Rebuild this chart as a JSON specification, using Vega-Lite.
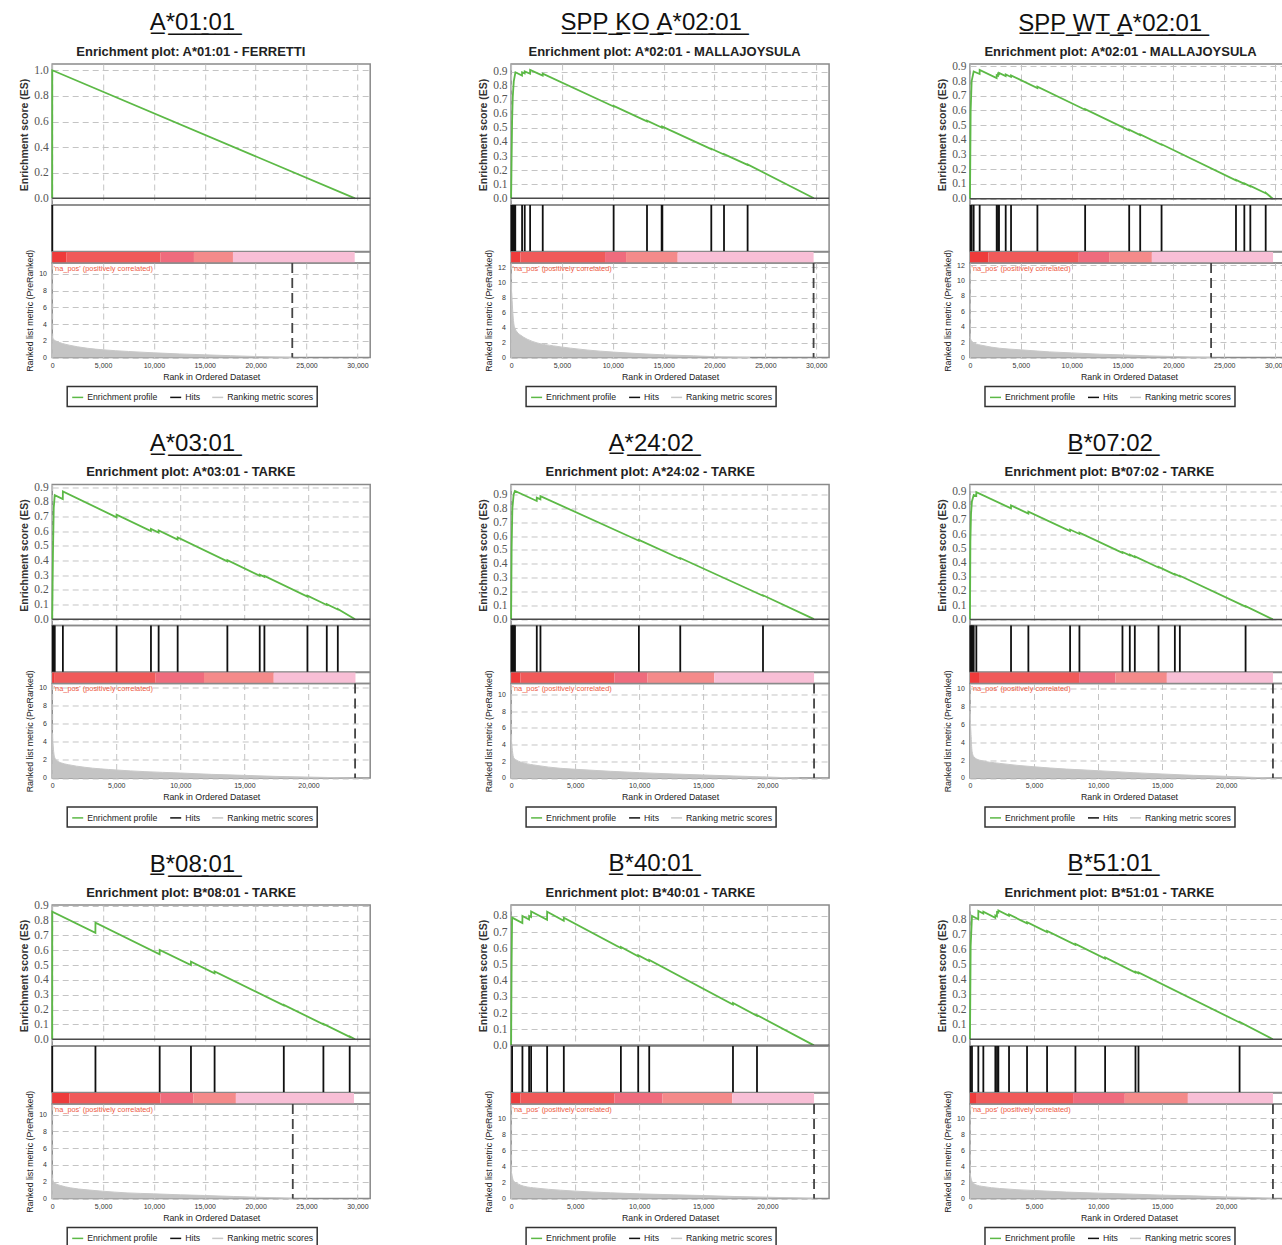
{
"$schema": "https://vega.github.io/schema/vega-lite/v6.json",
"background": "white",
"padding": {"left": 18.2, "top": 11, "right": 0, "bottom": 0},
"spacing": 23.5,
"resolve": {"scale": {"color": "independent"}, "legend": {"color": "independent"}},
"config": {
  "font": "Liberation Sans",
  "view": {"stroke": "#8a8a8a", "strokeWidth": 1.5},
  "axis": {"domain": false, "ticks": false, "tickSize": 0, "tickCount": 40, "gridColor": "#c4c4c4", "gridDash": [6, 4], "gridWidth": 1, "labelFont": "Liberation Sans", "titleFont": "Liberation Sans", "labelColor": "#333", "titleColor": "#222", "labelFlush": false, "labelOverlap": false},
  "legend": {"strokeColor": "#333", "strokeWidth": 1.5, "padding": 4},
  "title": {"font": "Liberation Sans", "color": "#111"}
},
"datasets": {
  "es1": [{"r":0,"es":0},{"r":5,"es":1.0},{"r":29770,"es":0}],
  "es2": [{"r":0,"es":0},{"r":100,"es":0.55},{"r":164,"es":0.72},{"r":262,"es":0.83},{"r":426,"es":0.895},{"r":1075,"es":0.872},{"r":1080,"es":0.895},{"r":1335,"es":0.887},{"r":1340,"es":0.902},{"r":1865,"es":0.885},{"r":1870,"es":0.912},{"r":3105,"es":0.872},{"r":3110,"es":0.885},{"r":10075,"es":0.652},{"r":10080,"es":0.656},{"r":13355,"es":0.547},{"r":13360,"es":0.551},{"r":14795,"es":0.503},{"r":14800,"es":0.507},{"r":14865,"es":0.505},{"r":14870,"es":0.509},{"r":19675,"es":0.349},{"r":19680,"es":0.352},{"r":20925,"es":0.311},{"r":20930,"es":0.314},{"r":23245,"es":0.237},{"r":23250,"es":0.24},{"r":29770,"es":0}],
  "es3": [{"r":0,"es":0},{"r":66,"es":0.6},{"r":164,"es":0.8},{"r":361,"es":0.865},{"r":946,"es":0.848},{"r":951,"es":0.875},{"r":2620,"es":0.82},{"r":2625,"es":0.84},{"r":2751,"es":0.836},{"r":2756,"es":0.85},{"r":2849,"es":0.847},{"r":2854,"es":0.855},{"r":3505,"es":0.834},{"r":3510,"es":0.845},{"r":4030,"es":0.828},{"r":4035,"es":0.838},{"r":6622,"es":0.752},{"r":6627,"es":0.762},{"r":11314,"es":0.605},{"r":11319,"es":0.609},{"r":15645,"es":0.465},{"r":15650,"es":0.469},{"r":16727,"es":0.433},{"r":16732,"es":0.437},{"r":18827,"es":0.367},{"r":18832,"es":0.37},{"r":26143,"es":0.125},{"r":26148,"es":0.128},{"r":26964,"es":0.101},{"r":26969,"es":0.104},{"r":27554,"es":0.084},{"r":27559,"es":0.087},{"r":29063,"es":0.037},{"r":29068,"es":0.04},{"r":29770,"es":0}],
  "es4": [{"r":0,"es":0},{"r":60,"es":0.45},{"r":120,"es":0.76},{"r":200,"es":0.845},{"r":828,"es":0.818},{"r":833,"es":0.87},{"r":5021,"es":0.695},{"r":5026,"es":0.712},{"r":7703,"es":0.6},{"r":7708,"es":0.615},{"r":8302,"es":0.59},{"r":8307,"es":0.605},{"r":9787,"es":0.543},{"r":9792,"es":0.558},{"r":13667,"es":0.395},{"r":13672,"es":0.402},{"r":16193,"es":0.296},{"r":16198,"es":0.303},{"r":16558,"es":0.288},{"r":16563,"es":0.295},{"r":19917,"es":0.154},{"r":19922,"es":0.16},{"r":21427,"es":0.097},{"r":21432,"es":0.102},{"r":22287,"es":0.066},{"r":22292,"es":0.07},{"r":23640,"es":0}],
  "es5": [{"r":0,"es":0},{"r":40,"es":0.5},{"r":100,"es":0.8},{"r":200,"es":0.9},{"r":300,"es":0.925},{"r":2000,"es":0.853},{"r":2005,"es":0.877},{"r":2288,"es":0.865},{"r":2292,"es":0.888},{"r":9970,"es":0.566},{"r":9974,"es":0.572},{"r":13199,"es":0.436},{"r":13203,"es":0.441},{"r":19657,"es":0.169},{"r":19661,"es":0.172},{"r":23640,"es":0}],
  "es6": [{"r":0,"es":0},{"r":30,"es":0.55},{"r":80,"es":0.74},{"r":150,"es":0.83},{"r":290,"es":0.875},{"r":490,"es":0.868},{"r":495,"es":0.895},{"r":3198,"es":0.781},{"r":3203,"es":0.802},{"r":4552,"es":0.745},{"r":4557,"es":0.758},{"r":7808,"es":0.621},{"r":7813,"es":0.632},{"r":8537,"es":0.601},{"r":8542,"es":0.61},{"r":11896,"es":0.468},{"r":11901,"es":0.474},{"r":12469,"es":0.45},{"r":12474,"es":0.455},{"r":12860,"es":0.438},{"r":12865,"es":0.443},{"r":14709,"es":0.365},{"r":14714,"es":0.369},{"r":15985,"es":0.315},{"r":15990,"es":0.319},{"r":16375,"es":0.303},{"r":16380,"es":0.307},{"r":21505,"es":0.09},{"r":21510,"es":0.093},{"r":23640,"es":0}],
  "es7": [{"r":0,"es":0},{"r":5,"es":0.86},{"r":4247,"es":0.717},{"r":4252,"es":0.785},{"r":10561,"es":0.573},{"r":10566,"es":0.603},{"r":13636,"es":0.5},{"r":13641,"es":0.523},{"r":15959,"es":0.445},{"r":15964,"es":0.458},{"r":22762,"es":0.229},{"r":22767,"es":0.232},{"r":26655,"es":0.101},{"r":26660,"es":0.104},{"r":29240,"es":0.017},{"r":29245,"es":0.02},{"r":29770,"es":0}],
  "es8": [{"r":0,"es":0},{"r":40,"es":0.5},{"r":78,"es":0.79},{"r":880,"es":0.756},{"r":885,"es":0.8},{"r":1401,"es":0.778},{"r":1406,"es":0.8},{"r":1558,"es":0.794},{"r":1563,"es":0.828},{"r":2808,"es":0.776},{"r":2813,"es":0.826},{"r":4110,"es":0.771},{"r":4115,"es":0.79},{"r":8563,"es":0.602},{"r":8568,"es":0.608},{"r":9917,"es":0.551},{"r":9922,"es":0.558},{"r":10776,"es":0.522},{"r":10781,"es":0.528},{"r":17313,"es":0.252},{"r":17318,"es":0.262},{"r":19188,"es":0.183},{"r":19193,"es":0.187},{"r":23640,"es":0}],
  "es9": [{"r":0,"es":0},{"r":52,"es":0.62},{"r":156,"es":0.822},{"r":646,"es":0.8},{"r":651,"es":0.855},{"r":1037,"es":0.838},{"r":1042,"es":0.85},{"r":1974,"es":0.81},{"r":1979,"es":0.825},{"r":2104,"es":0.82},{"r":2109,"es":0.848},{"r":2209,"es":0.844},{"r":2214,"es":0.858},{"r":3042,"es":0.823},{"r":3047,"es":0.832},{"r":4448,"es":0.773},{"r":4453,"es":0.78},{"r":6011,"es":0.714},{"r":6016,"es":0.722},{"r":8224,"es":0.629},{"r":8229,"es":0.636},{"r":10542,"es":0.538},{"r":10547,"es":0.545},{"r":12912,"es":0.445},{"r":12917,"es":0.45},{"r":13146,"es":0.44},{"r":13151,"es":0.445},{"r":21037,"es":0.112},{"r":21042,"es":0.116},{"r":23640,"es":0}],
  "h1": [{"r":10}],
  "h2": [{"r":30},{"r":80},{"r":150},{"r":230},{"r":320},{"r":410},{"r":1080},{"r":1340},{"r":1870},{"r":3110},{"r":10080},{"r":13360},{"r":14800},{"r":14870},{"r":19680},{"r":20930},{"r":23250}],
  "h3": [{"r":66},{"r":164},{"r":361},{"r":951},{"r":2625},{"r":2756},{"r":2854},{"r":3510},{"r":4035},{"r":6627},{"r":11319},{"r":15650},{"r":16732},{"r":18832},{"r":26148},{"r":26969},{"r":27559},{"r":29068}],
  "h4": [{"r":40},{"r":100},{"r":200},{"r":833},{"r":5026},{"r":7708},{"r":8307},{"r":9792},{"r":13672},{"r":16198},{"r":16563},{"r":19922},{"r":21432},{"r":22292}],
  "h5": [{"r":30},{"r":80},{"r":140},{"r":200},{"r":260},{"r":300},{"r":2005},{"r":2292},{"r":9974},{"r":13203},{"r":19661}],
  "h6": [{"r":30},{"r":80},{"r":150},{"r":220},{"r":290},{"r":495},{"r":3203},{"r":4557},{"r":7813},{"r":8542},{"r":11901},{"r":12474},{"r":12865},{"r":14714},{"r":15990},{"r":16380},{"r":21510}],
  "h7": [{"r":5},{"r":4252},{"r":10566},{"r":13641},{"r":15964},{"r":22767},{"r":26660},{"r":29245}],
  "h8": [{"r":78},{"r":885},{"r":1406},{"r":1563},{"r":2813},{"r":4115},{"r":8568},{"r":9922},{"r":10781},{"r":17318},{"r":19193}],
  "h9": [{"r":52},{"r":156},{"r":651},{"r":1042},{"r":1979},{"r":2109},{"r":2214},{"r":3047},{"r":4453},{"r":6016},{"r":8229},{"r":10547},{"r":12917},{"r":13151},{"r":21042}],
  "c1": [{"a":0,"b":1377,"k":1},{"a":1377,"b":10656,"k":2},{"a":10656,"b":13934,"k":3},{"a":13934,"b":17770,"k":4},{"a":17770,"b":29738,"k":5}],
  "c2": [{"a":0,"b":917,"k":1},{"a":917,"b":9236,"k":2},{"a":9236,"b":11300,"k":3},{"a":11300,"b":16377,"k":4},{"a":16377,"b":29738,"k":5}],
  "c3": [{"a":0,"b":1804,"k":1},{"a":1804,"b":10696,"k":2},{"a":10696,"b":13681,"k":3},{"a":13681,"b":17880,"k":4},{"a":17880,"b":29790,"k":5}],
  "c4": [{"a":0,"b":200,"k":1},{"a":200,"b":8073,"k":2},{"a":8073,"b":11849,"k":3},{"a":11849,"b":17292,"k":4},{"a":17292,"b":23672,"k":5}],
  "c5": [{"a":0,"b":729,"k":1},{"a":729,"b":8073,"k":2},{"a":8073,"b":10651,"k":3},{"a":10651,"b":15859,"k":4},{"a":15859,"b":23646,"k":5}],
  "c6": [{"a":0,"b":703,"k":1},{"a":703,"b":8516,"k":2},{"a":8516,"b":11354,"k":3},{"a":11354,"b":15365,"k":4},{"a":15365,"b":23646,"k":5}],
  "c7": [{"a":0,"b":1701,"k":1},{"a":1701,"b":10632,"k":2},{"a":10632,"b":13870,"k":3},{"a":13870,"b":18057,"k":4},{"a":18057,"b":29670,"k":5}],
  "c8": [{"a":0,"b":729,"k":1},{"a":729,"b":8073,"k":2},{"a":8073,"b":11823,"k":3},{"a":11823,"b":17266,"k":4},{"a":17266,"b":23646,"k":5}],
  "c9": [{"a":0,"b":469,"k":1},{"a":469,"b":8047,"k":2},{"a":8047,"b":12083,"k":3},{"a":12083,"b":17005,"k":4},{"a":17005,"b":23646,"k":5}],
  "m1": [{"r":0,"m":2.6},{"r":60,"m":2.3},{"r":160,"m":2.15},{"r":500,"m":1.9},{"r":1000,"m":1.68},{"r":1700,"m":1.47},{"r":2500,"m":1.28},{"r":3500,"m":1.1},{"r":5000,"m":0.92},{"r":7500,"m":0.72},{"r":10000,"m":0.56},{"r":12500,"m":0.43},{"r":15000,"m":0.32},{"r":17500,"m":0.22},{"r":20000,"m":0.12},{"r":22000,"m":0.05},{"r":23600,"m":0}],
  "m2": [{"r":0,"m":10.1},{"r":40,"m":9.0},{"r":100,"m":7.6},{"r":200,"m":5.4},{"r":330,"m":4.1},{"r":590,"m":3.4},{"r":917,"m":3.0},{"r":1570,"m":2.45},{"r":2550,"m":1.95},{"r":4190,"m":1.55},{"r":5830,"m":1.25},{"r":7470,"m":1.0},{"r":10060,"m":0.72},{"r":12380,"m":0.53},{"r":15070,"m":0.35},{"r":17950,"m":0.22},{"r":20730,"m":0.08},{"r":22200,"m":0.03},{"r":23500,"m":0}],
  "m3": [{"r":0,"m":2.7},{"r":130,"m":2.2},{"r":460,"m":1.85},{"r":1280,"m":1.55},{"r":2920,"m":1.2},{"r":4950,"m":1.0},{"r":7840,"m":0.73},{"r":10000,"m":0.6},{"r":12760,"m":0.43},{"r":15000,"m":0.34},{"r":17680,"m":0.21},{"r":20000,"m":0.13},{"r":21600,"m":0.05},{"r":23700,"m":0}],
  "m4": [{"r":0,"m":5.0},{"r":50,"m":4.0},{"r":100,"m":3.1},{"r":210,"m":2.2},{"r":340,"m":1.95},{"r":730,"m":1.65},{"r":1250,"m":1.47},{"r":2550,"m":1.18},{"r":5030,"m":0.88},{"r":7240,"m":0.7},{"r":10000,"m":0.55},{"r":12450,"m":0.4},{"r":15000,"m":0.29},{"r":17400,"m":0.18},{"r":20000,"m":0.1},{"r":22080,"m":0.04},{"r":23600,"m":0}],
  "m5": [{"r":0,"m":5.1},{"r":50,"m":4.1},{"r":100,"m":3.3},{"r":210,"m":2.4},{"r":470,"m":2.1},{"r":990,"m":1.8},{"r":2030,"m":1.5},{"r":3850,"m":1.16},{"r":5030,"m":1.04},{"r":7760,"m":0.8},{"r":10000,"m":0.64},{"r":12700,"m":0.48},{"r":15000,"m":0.36},{"r":17400,"m":0.24},{"r":20000,"m":0.12},{"r":21430,"m":0.04},{"r":22500,"m":0}],
  "m6": [{"r":0,"m":7.5},{"r":40,"m":6.0},{"r":80,"m":4.9},{"r":160,"m":3.0},{"r":290,"m":2.4},{"r":755,"m":2.0},{"r":2320,"m":1.64},{"r":5000,"m":1.26},{"r":7530,"m":1.0},{"r":10000,"m":0.82},{"r":12730,"m":0.6},{"r":15000,"m":0.45},{"r":17420,"m":0.3},{"r":20000,"m":0.19},{"r":22100,"m":0.07},{"r":23600,"m":0}],
  "m7": [{"r":0,"m":2.46},{"r":100,"m":2.06},{"r":330,"m":1.79},{"r":820,"m":1.55},{"r":1800,"m":1.27},{"r":3430,"m":1.03},{"r":4940,"m":0.87},{"r":7360,"m":0.67},{"r":9940,"m":0.56},{"r":12600,"m":0.44},{"r":14950,"m":0.36},{"r":17830,"m":0.24},{"r":19950,"m":0.16},{"r":22080,"m":0.08},{"r":23600,"m":0}],
  "m8": [{"r":0,"m":3.6},{"r":80,"m":2.8},{"r":210,"m":2.17},{"r":470,"m":1.88},{"r":990,"m":1.54},{"r":2030,"m":1.29},{"r":3850,"m":1.04},{"r":5030,"m":0.92},{"r":7760,"m":0.71},{"r":10000,"m":0.58},{"r":12700,"m":0.46},{"r":15000,"m":0.37},{"r":17400,"m":0.25},{"r":20000,"m":0.16},{"r":22080,"m":0.08},{"r":23600,"m":0}],
  "m9": [{"r":0,"m":3.2},{"r":100,"m":2.4},{"r":230,"m":1.96},{"r":490,"m":1.7},{"r":1020,"m":1.5},{"r":2320,"m":1.25},{"r":5000,"m":1.0},{"r":7530,"m":0.8},{"r":10000,"m":0.67},{"r":12730,"m":0.54},{"r":15000,"m":0.42},{"r":17420,"m":0.33},{"r":20000,"m":0.2},{"r":22100,"m":0.12},{"r":23600,"m":0}],
  "d1": [{"r":23600}], "d2": [{"r":29735}], "d3": [{"r":23700}], "d4": [{"r":23640}], "d5": [{"r":23646}], "d6": [{"r":23646}], "d7": [{"r":23650}], "d8": [{"r":23646}], "d9": [{"r":23646}],
  "lab": [{"t":"'na_pos' (positively correlated)"}]
},
"vconcat": [
 {"hconcat": [
  {"title": {"text": "A\u0332*\u03320\u03321\u0332:\u03320\u03321\u0332", "fontSize": 24, "fontWeight": "normal", "anchor": "middle", "dx": -3, "offset": 9.7},
   "spacing": 0, "bounds": "flush", "resolve": {"scale": {"color": "independent"}, "legend": {"color": "independent"}},
   "vconcat": [
    {"title": {"text": "Enrichment plot: A*01:01 - FERRETTI", "fontSize": 13, "fontWeight": "bold", "anchor": "middle", "dx": -20.4, "offset": 5.3, "color": "#222"},
     "width": 318, "height": 141,
     "layer": [
      {"data": {"name": "es1"}, "mark": {"type": "line", "color": "#5cb946", "strokeWidth": 1.8},
       "encoding": {"x": {"field": "r", "type": "quantitative", "scale": {"domain": [0, 31260], "nice": false, "zero": false}, "axis": {"values": [0,5000,10000,15000,20000,25000,30000], "tickCount": 40, "labels": false, "title": null, "grid": true}},
        "y": {"field": "es", "type": "quantitative", "scale": {"domain": [-0.052, 1.049], "nice": false, "zero": false}, "axis": {"values": [0,0.2,0.4,0.6,0.8,1.0], "tickCount": 40, "labelOverlap": false, "format": ".1f", "title": "Enrichment score (ES)", "grid": true, "labelFont": "Liberation Serif", "labelFontSize": 11.5, "labelColor": "#555", "labelPadding": 4, "titleFontSize": 10.5, "titleFontWeight": "bold", "titlePadding": 4, "titleColor": "#333"}}}},
      {"data": {"values": [{}]}, "mark": {"type": "rule", "color": "#4a4a4a", "strokeWidth": 1.5}, "encoding": {"y": {"datum": 0}}}
     ]},
    {"width": 318, "height": 46.5, "data": {"name": "h1"}, "mark": {"type": "rule", "color": "#111", "strokeWidth": 1.8},
     "encoding": {"x": {"field": "r", "type": "quantitative", "scale": {"domain": [0, 31260], "nice": false, "zero": false}, "axis": null}}},
    {"width": 318, "height": 11, "data": {"name": "c1"}, "mark": {"type": "rect"},
     "encoding": {"x": {"field": "a", "type": "quantitative", "scale": {"domain": [0, 31260], "nice": false, "zero": false}, "axis": null}, "x2": {"field": "b"},
      "color": {"field": "k", "type": "ordinal", "scale": {"domain": [1,2,3,4,5], "range": ["#ee3b3b","#f05a5a","#ef6b7d","#f48a8a","#f8bfd6"]}, "legend": null}}},
    {"width": 318, "height": 94.5,
     "layer": [
      {"data": {"name": "m1"}, "mark": {"type": "area", "color": "#c4c4c4", "interpolate": "monotone"},
       "encoding": {"x": {"field": "r", "type": "quantitative", "scale": {"domain": [0, 31260], "nice": false, "zero": false}, "axis": {"values": [0,5000,10000,15000,20000,25000,30000], "tickCount": 40, "format": ",d", "title": "Rank in Ordered Dataset", "grid": true, "labelFontSize": 7, "labelPadding": 4, "titleFontSize": 8.8, "titleFontWeight": "normal", "titlePadding": 4}},
        "y": {"field": "m", "type": "quantitative", "scale": {"domain": [0, 11.3], "nice": false, "zero": false}, "axis": {"values": [0,2,4,6,8,10], "tickCount": 40, "labelOverlap": false, "format": "d", "title": "Ranked list metric (PreRanked)", "grid": true, "labelFontSize": 7, "labelPadding": 5.7, "titleFontSize": 8.8, "titleFontWeight": "normal", "titlePadding": 4.5}}}},
      {"data": {"name": "m1"}, "mark": {"type": "line", "strokeWidth": 1, "interpolate": "monotone"},
       "encoding": {"x": {"field": "r", "type": "quantitative"}, "y": {"field": "m", "type": "quantitative"},
        "color": {"datum": "Ranking metric scores", "scale": {"domain": ["Enrichment profile","Hits","Ranking metric scores"], "range": ["#5cb946","#111111","#c8c8c8"]},
         "legend": {"orient": "none", "legendX": 15, "legendY": 123.5, "direction": "horizontal", "title": null, "symbolType": "stroke", "symbolSize": 121, "symbolStrokeWidth": 1.5, "labelFontSize": 8.7, "labelColor": "#222", "columnPadding": 9, "padding": 4, "strokeColor": "#333", "labelOffset": 3}}}},
      {"data": {"name": "d1"}, "mark": {"type": "rule", "color": "#444", "strokeWidth": 1.8, "strokeDash": [10, 5]}, "encoding": {"x": {"field": "r", "type": "quantitative"}}},
      {"data": {"name": "lab"}, "mark": {"type": "text", "align": "left", "baseline": "top", "dx": 1.5, "dy": 2, "fontSize": 7.4, "color": "#ee5a44"}, "encoding": {"x": {"datum": 0}, "y": {"datum": 11.3}, "text": {"field": "t"}}}
     ]}
   ]},
  {"title": {"text": "S\u0332P\u0332P\u0332 \u0332K\u0332O\u0332 \u0332A\u0332*\u03320\u03322\u0332:\u03320\u03321\u0332", "fontSize": 24, "fontWeight": "normal", "anchor": "middle", "dx": -3, "offset": 9.7},
   "spacing": 0, "bounds": "flush", "resolve": {"scale": {"color": "independent"}, "legend": {"color": "independent"}},
   "vconcat": [
    {"title": {"text": "Enrichment plot: A*02:01 - MALLAJOYSULA", "fontSize": 13, "fontWeight": "bold", "anchor": "middle", "dx": -5.5, "offset": 5.3, "color": "#222"},
     "width": 318, "height": 141,
     "layer": [
      {"data": {"name": "es2"}, "mark": {"type": "line", "color": "#5cb946", "strokeWidth": 1.8},
       "encoding": {"x": {"field": "r", "type": "quantitative", "scale": {"domain": [0, 31260], "nice": false, "zero": false}, "axis": {"values": [0,5000,10000,15000,20000,25000,30000], "tickCount": 40, "labels": false, "title": null, "grid": true}},
        "y": {"field": "es", "type": "quantitative", "scale": {"domain": [-0.048, 0.954], "nice": false, "zero": false}, "axis": {"values": [0,0.1,0.2,0.3,0.4,0.5,0.6,0.7,0.8,0.9], "tickCount": 40, "labelOverlap": false, "format": ".1f", "title": "Enrichment score (ES)", "grid": true, "labelFont": "Liberation Serif", "labelFontSize": 11.5, "labelColor": "#555", "labelPadding": 4, "titleFontSize": 10.5, "titleFontWeight": "bold", "titlePadding": 4, "titleColor": "#333"}}}},
      {"data": {"values": [{}]}, "mark": {"type": "rule", "color": "#4a4a4a", "strokeWidth": 1.5}, "encoding": {"y": {"datum": 0}}}
     ]},
    {"width": 318, "height": 46.5, "data": {"name": "h2"}, "mark": {"type": "rule", "color": "#111", "strokeWidth": 1.8},
     "encoding": {"x": {"field": "r", "type": "quantitative", "scale": {"domain": [0, 31260], "nice": false, "zero": false}, "axis": null}}},
    {"width": 318, "height": 11, "data": {"name": "c2"}, "mark": {"type": "rect"},
     "encoding": {"x": {"field": "a", "type": "quantitative", "scale": {"domain": [0, 31260], "nice": false, "zero": false}, "axis": null}, "x2": {"field": "b"},
      "color": {"field": "k", "type": "ordinal", "scale": {"domain": [1,2,3,4,5], "range": ["#ee3b3b","#f05a5a","#ef6b7d","#f48a8a","#f8bfd6"]}, "legend": null}}},
    {"width": 318, "height": 94.5,
     "layer": [
      {"data": {"name": "m2"}, "mark": {"type": "area", "color": "#c4c4c4", "interpolate": "monotone"},
       "encoding": {"x": {"field": "r", "type": "quantitative", "scale": {"domain": [0, 31260], "nice": false, "zero": false}, "axis": {"values": [0,5000,10000,15000,20000,25000,30000], "tickCount": 40, "format": ",d", "title": "Rank in Ordered Dataset", "grid": true, "labelFontSize": 7, "labelPadding": 4, "titleFontSize": 8.8, "titleFontWeight": "normal", "titlePadding": 4}},
        "y": {"field": "m", "type": "quantitative", "scale": {"domain": [0, 12.6], "nice": false, "zero": false}, "axis": {"values": [0,2,4,6,8,10,12], "tickCount": 40, "labelOverlap": false, "format": "d", "title": "Ranked list metric (PreRanked)", "grid": true, "labelFontSize": 7, "labelPadding": 5.7, "titleFontSize": 8.8, "titleFontWeight": "normal", "titlePadding": 4.5}}}},
      {"data": {"name": "m2"}, "mark": {"type": "line", "strokeWidth": 1, "interpolate": "monotone"},
       "encoding": {"x": {"field": "r", "type": "quantitative"}, "y": {"field": "m", "type": "quantitative"},
        "color": {"datum": "Ranking metric scores", "scale": {"domain": ["Enrichment profile","Hits","Ranking metric scores"], "range": ["#5cb946","#111111","#c8c8c8"]},
         "legend": {"orient": "none", "legendX": 15, "legendY": 123.5, "direction": "horizontal", "title": null, "symbolType": "stroke", "symbolSize": 121, "symbolStrokeWidth": 1.5, "labelFontSize": 8.7, "labelColor": "#222", "columnPadding": 9, "padding": 4, "strokeColor": "#333", "labelOffset": 3}}}},
      {"data": {"name": "d2"}, "mark": {"type": "rule", "color": "#444", "strokeWidth": 1.8, "strokeDash": [10, 5]}, "encoding": {"x": {"field": "r", "type": "quantitative"}}},
      {"data": {"name": "lab"}, "mark": {"type": "text", "align": "left", "baseline": "top", "dx": 1.5, "dy": 2, "fontSize": 7.4, "color": "#ee5a44"}, "encoding": {"x": {"datum": 0}, "y": {"datum": 12.6}, "text": {"field": "t"}}}
     ]}
   ]},
  {"title": {"text": "S\u0332P\u0332P\u0332 \u0332W\u0332T\u0332 \u0332A\u0332*\u03320\u03322\u0332:\u03320\u03321\u0332", "fontSize": 24, "fontWeight": "normal", "anchor": "middle", "dx": -3, "offset": 9.7},
   "spacing": 0, "bounds": "flush", "resolve": {"scale": {"color": "independent"}, "legend": {"color": "independent"}},
   "vconcat": [
    {"title": {"text": "Enrichment plot: A*02:01 - MALLAJOYSULA", "fontSize": 13, "fontWeight": "bold", "anchor": "middle", "dx": -8.5, "offset": 1.35, "color": "#222"},
     "width": 318, "height": 141,
     "layer": [
      {"data": {"name": "es3"}, "mark": {"type": "line", "color": "#5cb946", "strokeWidth": 1.8},
       "encoding": {"x": {"field": "r", "type": "quantitative", "scale": {"domain": [0, 31260], "nice": false, "zero": false}, "axis": {"values": [0,5000,10000,15000,20000,25000,30000], "tickCount": 40, "labels": false, "title": null, "grid": true}},
        "y": {"field": "es", "type": "quantitative", "scale": {"domain": [-0.043, 0.916], "nice": false, "zero": false}, "axis": {"values": [0,0.1,0.2,0.3,0.4,0.5,0.6,0.7,0.8,0.9], "tickCount": 40, "labelOverlap": false, "format": ".1f", "title": "Enrichment score (ES)", "grid": true, "labelFont": "Liberation Serif", "labelFontSize": 11.5, "labelColor": "#555", "labelPadding": 4, "titleFontSize": 10.5, "titleFontWeight": "bold", "titlePadding": 4, "titleColor": "#333"}}}},
      {"data": {"values": [{}]}, "mark": {"type": "rule", "color": "#4a4a4a", "strokeWidth": 1.5}, "encoding": {"y": {"datum": 0}}}
     ]},
    {"width": 318, "height": 46.5, "data": {"name": "h3"}, "mark": {"type": "rule", "color": "#111", "strokeWidth": 1.8},
     "encoding": {"x": {"field": "r", "type": "quantitative", "scale": {"domain": [0, 31260], "nice": false, "zero": false}, "axis": null}}},
    {"width": 318, "height": 11, "data": {"name": "c3"}, "mark": {"type": "rect"},
     "encoding": {"x": {"field": "a", "type": "quantitative", "scale": {"domain": [0, 31260], "nice": false, "zero": false}, "axis": null}, "x2": {"field": "b"},
      "color": {"field": "k", "type": "ordinal", "scale": {"domain": [1,2,3,4,5], "range": ["#ee3b3b","#f05a5a","#ef6b7d","#f48a8a","#f8bfd6"]}, "legend": null}}},
    {"width": 318, "height": 94.5,
     "layer": [
      {"data": {"name": "m3"}, "mark": {"type": "area", "color": "#c4c4c4", "interpolate": "monotone"},
       "encoding": {"x": {"field": "r", "type": "quantitative", "scale": {"domain": [0, 31260], "nice": false, "zero": false}, "axis": {"values": [0,5000,10000,15000,20000,25000,30000], "tickCount": 40, "format": ",d", "title": "Rank in Ordered Dataset", "grid": true, "labelFontSize": 7, "labelPadding": 4, "titleFontSize": 8.8, "titleFontWeight": "normal", "titlePadding": 4}},
        "y": {"field": "m", "type": "quantitative", "scale": {"domain": [0, 12.26], "nice": false, "zero": false}, "axis": {"values": [0,2,4,6,8,10,12], "tickCount": 40, "labelOverlap": false, "format": "d", "title": "Ranked list metric (PreRanked)", "grid": true, "labelFontSize": 7, "labelPadding": 5.7, "titleFontSize": 8.8, "titleFontWeight": "normal", "titlePadding": 4.5}}}},
      {"data": {"name": "m3"}, "mark": {"type": "line", "strokeWidth": 1, "interpolate": "monotone"},
       "encoding": {"x": {"field": "r", "type": "quantitative"}, "y": {"field": "m", "type": "quantitative"},
        "color": {"datum": "Ranking metric scores", "scale": {"domain": ["Enrichment profile","Hits","Ranking metric scores"], "range": ["#5cb946","#111111","#c8c8c8"]},
         "legend": {"orient": "none", "legendX": 15, "legendY": 123.5, "direction": "horizontal", "title": null, "symbolType": "stroke", "symbolSize": 121, "symbolStrokeWidth": 1.5, "labelFontSize": 8.7, "labelColor": "#222", "columnPadding": 9, "padding": 4, "strokeColor": "#333", "labelOffset": 3}}}},
      {"data": {"name": "d3"}, "mark": {"type": "rule", "color": "#444", "strokeWidth": 1.8, "strokeDash": [10, 5]}, "encoding": {"x": {"field": "r", "type": "quantitative"}}},
      {"data": {"name": "lab"}, "mark": {"type": "text", "align": "left", "baseline": "top", "dx": 1.5, "dy": 2, "fontSize": 7.4, "color": "#ee5a44"}, "encoding": {"x": {"datum": 0}, "y": {"datum": 12.26}, "text": {"field": "t"}}}
     ]}
   ]}
 ], "spacing": 104.9, "resolve": {"scale": {"color": "independent"}, "legend": {"color": "independent"}}},
 {"hconcat": [
  {"title": {"text": "A\u0332*\u03320\u03323\u0332:\u03320\u03321\u0332", "fontSize": 24, "fontWeight": "normal", "anchor": "middle", "dx": -3, "offset": 9.7},
   "spacing": 0, "bounds": "flush", "resolve": {"scale": {"color": "independent"}, "legend": {"color": "independent"}},
   "vconcat": [
    {"title": {"text": "Enrichment plot: A*03:01 - TARKE", "fontSize": 13, "fontWeight": "bold", "anchor": "middle", "dx": -20.4, "offset": 1.65, "color": "#222"},
     "width": 318, "height": 141,
     "layer": [
      {"data": {"name": "es4"}, "mark": {"type": "line", "color": "#5cb946", "strokeWidth": 1.8},
       "encoding": {"x": {"field": "r", "type": "quantitative", "scale": {"domain": [0, 24820], "nice": false, "zero": false}, "axis": {"values": [0,5000,10000,15000,20000], "tickCount": 40, "labels": false, "title": null, "grid": true}},
        "y": {"field": "es", "type": "quantitative", "scale": {"domain": [-0.043, 0.918], "nice": false, "zero": false}, "axis": {"values": [0,0.1,0.2,0.3,0.4,0.5,0.6,0.7,0.8,0.9], "tickCount": 40, "labelOverlap": false, "format": ".1f", "title": "Enrichment score (ES)", "grid": true, "labelFont": "Liberation Serif", "labelFontSize": 11.5, "labelColor": "#555", "labelPadding": 4, "titleFontSize": 10.5, "titleFontWeight": "bold", "titlePadding": 4, "titleColor": "#333"}}}},
      {"data": {"values": [{}]}, "mark": {"type": "rule", "color": "#4a4a4a", "strokeWidth": 1.5}, "encoding": {"y": {"datum": 0}}}
     ]},
    {"width": 318, "height": 46.5, "data": {"name": "h4"}, "mark": {"type": "rule", "color": "#111", "strokeWidth": 1.8},
     "encoding": {"x": {"field": "r", "type": "quantitative", "scale": {"domain": [0, 24820], "nice": false, "zero": false}, "axis": null}}},
    {"width": 318, "height": 11, "data": {"name": "c4"}, "mark": {"type": "rect"},
     "encoding": {"x": {"field": "a", "type": "quantitative", "scale": {"domain": [0, 24820], "nice": false, "zero": false}, "axis": null}, "x2": {"field": "b"},
      "color": {"field": "k", "type": "ordinal", "scale": {"domain": [1,2,3,4,5], "range": ["#ee3b3b","#f05a5a","#ef6b7d","#f48a8a","#f8bfd6"]}, "legend": null}}},
    {"width": 318, "height": 94.5,
     "layer": [
      {"data": {"name": "m4"}, "mark": {"type": "area", "color": "#c4c4c4", "interpolate": "monotone"},
       "encoding": {"x": {"field": "r", "type": "quantitative", "scale": {"domain": [0, 24820], "nice": false, "zero": false}, "axis": {"values": [0,5000,10000,15000,20000], "tickCount": 40, "format": ",d", "title": "Rank in Ordered Dataset", "grid": true, "labelFontSize": 7, "labelPadding": 4, "titleFontSize": 8.8, "titleFontWeight": "normal", "titlePadding": 4}},
        "y": {"field": "m", "type": "quantitative", "scale": {"domain": [0, 10.4], "nice": false, "zero": false}, "axis": {"values": [0,2,4,6,8,10], "tickCount": 40, "labelOverlap": false, "format": "d", "title": "Ranked list metric (PreRanked)", "grid": true, "labelFontSize": 7, "labelPadding": 5.7, "titleFontSize": 8.8, "titleFontWeight": "normal", "titlePadding": 4.5}}}},
      {"data": {"name": "m4"}, "mark": {"type": "line", "strokeWidth": 1, "interpolate": "monotone"},
       "encoding": {"x": {"field": "r", "type": "quantitative"}, "y": {"field": "m", "type": "quantitative"},
        "color": {"datum": "Ranking metric scores", "scale": {"domain": ["Enrichment profile","Hits","Ranking metric scores"], "range": ["#5cb946","#111111","#c8c8c8"]},
         "legend": {"orient": "none", "legendX": 15, "legendY": 123.5, "direction": "horizontal", "title": null, "symbolType": "stroke", "symbolSize": 121, "symbolStrokeWidth": 1.5, "labelFontSize": 8.7, "labelColor": "#222", "columnPadding": 9, "padding": 4, "strokeColor": "#333", "labelOffset": 3}}}},
      {"data": {"name": "d4"}, "mark": {"type": "rule", "color": "#444", "strokeWidth": 1.8, "strokeDash": [10, 5]}, "encoding": {"x": {"field": "r", "type": "quantitative"}}},
      {"data": {"name": "lab"}, "mark": {"type": "text", "align": "left", "baseline": "top", "dx": 1.5, "dy": 2, "fontSize": 7.4, "color": "#ee5a44"}, "encoding": {"x": {"datum": 0}, "y": {"datum": 10.4}, "text": {"field": "t"}}}
     ]}
   ]},
  {"title": {"text": "A\u0332*\u03322\u03324\u0332:\u03320\u03322\u0332", "fontSize": 24, "fontWeight": "normal", "anchor": "middle", "dx": -3, "offset": 9.7},
   "spacing": 0, "bounds": "flush", "resolve": {"scale": {"color": "independent"}, "legend": {"color": "independent"}},
   "vconcat": [
    {"title": {"text": "Enrichment plot: A*24:02 - TARKE", "fontSize": 13, "fontWeight": "bold", "anchor": "middle", "dx": -19.9, "offset": 5.3, "color": "#222"},
     "width": 318, "height": 141,
     "layer": [
      {"data": {"name": "es5"}, "mark": {"type": "line", "color": "#5cb946", "strokeWidth": 1.8},
       "encoding": {"x": {"field": "r", "type": "quantitative", "scale": {"domain": [0, 24820], "nice": false, "zero": false}, "axis": {"values": [0,5000,10000,15000,20000], "tickCount": 40, "labels": false, "title": null, "grid": true}},
        "y": {"field": "es", "type": "quantitative", "scale": {"domain": [-0.046, 0.972], "nice": false, "zero": false}, "axis": {"values": [0,0.1,0.2,0.3,0.4,0.5,0.6,0.7,0.8,0.9], "tickCount": 40, "labelOverlap": false, "format": ".1f", "title": "Enrichment score (ES)", "grid": true, "labelFont": "Liberation Serif", "labelFontSize": 11.5, "labelColor": "#555", "labelPadding": 4, "titleFontSize": 10.5, "titleFontWeight": "bold", "titlePadding": 4, "titleColor": "#333"}}}},
      {"data": {"values": [{}]}, "mark": {"type": "rule", "color": "#4a4a4a", "strokeWidth": 1.5}, "encoding": {"y": {"datum": 0}}}
     ]},
    {"width": 318, "height": 46.5, "data": {"name": "h5"}, "mark": {"type": "rule", "color": "#111", "strokeWidth": 1.8},
     "encoding": {"x": {"field": "r", "type": "quantitative", "scale": {"domain": [0, 24820], "nice": false, "zero": false}, "axis": null}}},
    {"width": 318, "height": 11, "data": {"name": "c5"}, "mark": {"type": "rect"},
     "encoding": {"x": {"field": "a", "type": "quantitative", "scale": {"domain": [0, 24820], "nice": false, "zero": false}, "axis": null}, "x2": {"field": "b"},
      "color": {"field": "k", "type": "ordinal", "scale": {"domain": [1,2,3,4,5], "range": ["#ee3b3b","#f05a5a","#ef6b7d","#f48a8a","#f8bfd6"]}, "legend": null}}},
    {"width": 318, "height": 94.5,
     "layer": [
      {"data": {"name": "m5"}, "mark": {"type": "area", "color": "#c4c4c4", "interpolate": "monotone"},
       "encoding": {"x": {"field": "r", "type": "quantitative", "scale": {"domain": [0, 24820], "nice": false, "zero": false}, "axis": {"values": [0,5000,10000,15000,20000], "tickCount": 40, "format": ",d", "title": "Rank in Ordered Dataset", "grid": true, "labelFontSize": 7, "labelPadding": 4, "titleFontSize": 8.8, "titleFontWeight": "normal", "titlePadding": 4}},
        "y": {"field": "m", "type": "quantitative", "scale": {"domain": [0, 11.3], "nice": false, "zero": false}, "axis": {"values": [0,2,4,6,8,10], "tickCount": 40, "labelOverlap": false, "format": "d", "title": "Ranked list metric (PreRanked)", "grid": true, "labelFontSize": 7, "labelPadding": 5.7, "titleFontSize": 8.8, "titleFontWeight": "normal", "titlePadding": 4.5}}}},
      {"data": {"name": "m5"}, "mark": {"type": "line", "strokeWidth": 1, "interpolate": "monotone"},
       "encoding": {"x": {"field": "r", "type": "quantitative"}, "y": {"field": "m", "type": "quantitative"},
        "color": {"datum": "Ranking metric scores", "scale": {"domain": ["Enrichment profile","Hits","Ranking metric scores"], "range": ["#5cb946","#111111","#c8c8c8"]},
         "legend": {"orient": "none", "legendX": 15, "legendY": 123.5, "direction": "horizontal", "title": null, "symbolType": "stroke", "symbolSize": 121, "symbolStrokeWidth": 1.5, "labelFontSize": 8.7, "labelColor": "#222", "columnPadding": 9, "padding": 4, "strokeColor": "#333", "labelOffset": 3}}}},
      {"data": {"name": "d5"}, "mark": {"type": "rule", "color": "#444", "strokeWidth": 1.8, "strokeDash": [10, 5]}, "encoding": {"x": {"field": "r", "type": "quantitative"}}},
      {"data": {"name": "lab"}, "mark": {"type": "text", "align": "left", "baseline": "top", "dx": 1.5, "dy": 2, "fontSize": 7.4, "color": "#ee5a44"}, "encoding": {"x": {"datum": 0}, "y": {"datum": 11.3}, "text": {"field": "t"}}}
     ]}
   ]},
  {"title": {"text": "B\u0332*\u03320\u03327\u0332:\u03320\u03322\u0332", "fontSize": 24, "fontWeight": "normal", "anchor": "middle", "dx": -3, "offset": 9.7},
   "spacing": 0, "bounds": "flush", "resolve": {"scale": {"color": "independent"}, "legend": {"color": "independent"}},
   "vconcat": [
    {"title": {"text": "Enrichment plot: B*07:02 - TARKE", "fontSize": 13, "fontWeight": "bold", "anchor": "middle", "dx": -19.6, "offset": 5.3, "color": "#222"},
     "width": 318, "height": 141,
     "layer": [
      {"data": {"name": "es6"}, "mark": {"type": "line", "color": "#5cb946", "strokeWidth": 1.8},
       "encoding": {"x": {"field": "r", "type": "quantitative", "scale": {"domain": [0, 24820], "nice": false, "zero": false}, "axis": {"values": [0,5000,10000,15000,20000], "tickCount": 40, "labels": false, "title": null, "grid": true}},
        "y": {"field": "es", "type": "quantitative", "scale": {"domain": [-0.043, 0.949], "nice": false, "zero": false}, "axis": {"values": [0,0.1,0.2,0.3,0.4,0.5,0.6,0.7,0.8,0.9], "tickCount": 40, "labelOverlap": false, "format": ".1f", "title": "Enrichment score (ES)", "grid": true, "labelFont": "Liberation Serif", "labelFontSize": 11.5, "labelColor": "#555", "labelPadding": 4, "titleFontSize": 10.5, "titleFontWeight": "bold", "titlePadding": 4, "titleColor": "#333"}}}},
      {"data": {"values": [{}]}, "mark": {"type": "rule", "color": "#4a4a4a", "strokeWidth": 1.5}, "encoding": {"y": {"datum": 0}}}
     ]},
    {"width": 318, "height": 46.5, "data": {"name": "h6"}, "mark": {"type": "rule", "color": "#111", "strokeWidth": 1.8},
     "encoding": {"x": {"field": "r", "type": "quantitative", "scale": {"domain": [0, 24820], "nice": false, "zero": false}, "axis": null}}},
    {"width": 318, "height": 11, "data": {"name": "c6"}, "mark": {"type": "rect"},
     "encoding": {"x": {"field": "a", "type": "quantitative", "scale": {"domain": [0, 24820], "nice": false, "zero": false}, "axis": null}, "x2": {"field": "b"},
      "color": {"field": "k", "type": "ordinal", "scale": {"domain": [1,2,3,4,5], "range": ["#ee3b3b","#f05a5a","#ef6b7d","#f48a8a","#f8bfd6"]}, "legend": null}}},
    {"width": 318, "height": 94.5,
     "layer": [
      {"data": {"name": "m6"}, "mark": {"type": "area", "color": "#c4c4c4", "interpolate": "monotone"},
       "encoding": {"x": {"field": "r", "type": "quantitative", "scale": {"domain": [0, 24820], "nice": false, "zero": false}, "axis": {"values": [0,5000,10000,15000,20000], "tickCount": 40, "format": ",d", "title": "Rank in Ordered Dataset", "grid": true, "labelFontSize": 7, "labelPadding": 4, "titleFontSize": 8.8, "titleFontWeight": "normal", "titlePadding": 4}},
        "y": {"field": "m", "type": "quantitative", "scale": {"domain": [0, 10.6], "nice": false, "zero": false}, "axis": {"values": [0,2,4,6,8,10], "tickCount": 40, "labelOverlap": false, "format": "d", "title": "Ranked list metric (PreRanked)", "grid": true, "labelFontSize": 7, "labelPadding": 5.7, "titleFontSize": 8.8, "titleFontWeight": "normal", "titlePadding": 4.5}}}},
      {"data": {"name": "m6"}, "mark": {"type": "line", "strokeWidth": 1, "interpolate": "monotone"},
       "encoding": {"x": {"field": "r", "type": "quantitative"}, "y": {"field": "m", "type": "quantitative"},
        "color": {"datum": "Ranking metric scores", "scale": {"domain": ["Enrichment profile","Hits","Ranking metric scores"], "range": ["#5cb946","#111111","#c8c8c8"]},
         "legend": {"orient": "none", "legendX": 15, "legendY": 123.5, "direction": "horizontal", "title": null, "symbolType": "stroke", "symbolSize": 121, "symbolStrokeWidth": 1.5, "labelFontSize": 8.7, "labelColor": "#222", "columnPadding": 9, "padding": 4, "strokeColor": "#333", "labelOffset": 3}}}},
      {"data": {"name": "d6"}, "mark": {"type": "rule", "color": "#444", "strokeWidth": 1.8, "strokeDash": [10, 5]}, "encoding": {"x": {"field": "r", "type": "quantitative"}}},
      {"data": {"name": "lab"}, "mark": {"type": "text", "align": "left", "baseline": "top", "dx": 1.5, "dy": 2, "fontSize": 7.4, "color": "#ee5a44"}, "encoding": {"x": {"datum": 0}, "y": {"datum": 10.6}, "text": {"field": "t"}}}
     ]}
   ]}
 ], "spacing": 104.9, "resolve": {"scale": {"color": "independent"}, "legend": {"color": "independent"}}},
 {"hconcat": [
  {"title": {"text": "B\u0332*\u03320\u03328\u0332:\u03320\u03321\u0332", "fontSize": 24, "fontWeight": "normal", "anchor": "middle", "dx": -3, "offset": 9.7},
   "spacing": 0, "bounds": "flush", "resolve": {"scale": {"color": "independent"}, "legend": {"color": "independent"}},
   "vconcat": [
    {"title": {"text": "Enrichment plot: B*08:01 - TARKE", "fontSize": 13, "fontWeight": "bold", "anchor": "middle", "dx": -20.2, "offset": -0.26, "color": "#222"},
     "width": 318, "height": 141,
     "layer": [
      {"data": {"name": "es7"}, "mark": {"type": "line", "color": "#5cb946", "strokeWidth": 1.8},
       "encoding": {"x": {"field": "r", "type": "quantitative", "scale": {"domain": [0, 31260], "nice": false, "zero": false}, "axis": {"values": [0,5000,10000,15000,20000,25000,30000], "tickCount": 40, "labels": false, "title": null, "grid": true}},
        "y": {"field": "es", "type": "quantitative", "scale": {"domain": [-0.045, 0.905], "nice": false, "zero": false}, "axis": {"values": [0,0.1,0.2,0.3,0.4,0.5,0.6,0.7,0.8,0.9], "tickCount": 40, "labelOverlap": false, "format": ".1f", "title": "Enrichment score (ES)", "grid": true, "labelFont": "Liberation Serif", "labelFontSize": 11.5, "labelColor": "#555", "labelPadding": 4, "titleFontSize": 10.5, "titleFontWeight": "bold", "titlePadding": 4, "titleColor": "#333"}}}},
      {"data": {"values": [{}]}, "mark": {"type": "rule", "color": "#4a4a4a", "strokeWidth": 1.5}, "encoding": {"y": {"datum": 0}}}
     ]},
    {"width": 318, "height": 46.5, "data": {"name": "h7"}, "mark": {"type": "rule", "color": "#111", "strokeWidth": 1.8},
     "encoding": {"x": {"field": "r", "type": "quantitative", "scale": {"domain": [0, 31260], "nice": false, "zero": false}, "axis": null}}},
    {"width": 318, "height": 11, "data": {"name": "c7"}, "mark": {"type": "rect"},
     "encoding": {"x": {"field": "a", "type": "quantitative", "scale": {"domain": [0, 31260], "nice": false, "zero": false}, "axis": null}, "x2": {"field": "b"},
      "color": {"field": "k", "type": "ordinal", "scale": {"domain": [1,2,3,4,5], "range": ["#ee3b3b","#f05a5a","#ef6b7d","#f48a8a","#f8bfd6"]}, "legend": null}}},
    {"width": 318, "height": 94.5,
     "layer": [
      {"data": {"name": "m7"}, "mark": {"type": "area", "color": "#c4c4c4", "interpolate": "monotone"},
       "encoding": {"x": {"field": "r", "type": "quantitative", "scale": {"domain": [0, 31260], "nice": false, "zero": false}, "axis": {"values": [0,5000,10000,15000,20000,25000,30000], "tickCount": 40, "format": ",d", "title": "Rank in Ordered Dataset", "grid": true, "labelFontSize": 7, "labelPadding": 4, "titleFontSize": 8.8, "titleFontWeight": "normal", "titlePadding": 4}},
        "y": {"field": "m", "type": "quantitative", "scale": {"domain": [0, 11.27], "nice": false, "zero": false}, "axis": {"values": [0,2,4,6,8,10], "tickCount": 40, "labelOverlap": false, "format": "d", "title": "Ranked list metric (PreRanked)", "grid": true, "labelFontSize": 7, "labelPadding": 5.7, "titleFontSize": 8.8, "titleFontWeight": "normal", "titlePadding": 4.5}}}},
      {"data": {"name": "m7"}, "mark": {"type": "line", "strokeWidth": 1, "interpolate": "monotone"},
       "encoding": {"x": {"field": "r", "type": "quantitative"}, "y": {"field": "m", "type": "quantitative"},
        "color": {"datum": "Ranking metric scores", "scale": {"domain": ["Enrichment profile","Hits","Ranking metric scores"], "range": ["#5cb946","#111111","#c8c8c8"]},
         "legend": {"orient": "none", "legendX": 15, "legendY": 123.5, "direction": "horizontal", "title": null, "symbolType": "stroke", "symbolSize": 121, "symbolStrokeWidth": 1.5, "labelFontSize": 8.7, "labelColor": "#222", "columnPadding": 9, "padding": 4, "strokeColor": "#333", "labelOffset": 3}}}},
      {"data": {"name": "d7"}, "mark": {"type": "rule", "color": "#444", "strokeWidth": 1.8, "strokeDash": [10, 5]}, "encoding": {"x": {"field": "r", "type": "quantitative"}}},
      {"data": {"name": "lab"}, "mark": {"type": "text", "align": "left", "baseline": "top", "dx": 1.5, "dy": 2, "fontSize": 7.4, "color": "#ee5a44"}, "encoding": {"x": {"datum": 0}, "y": {"datum": 11.27}, "text": {"field": "t"}}}
     ]}
   ]},
  {"title": {"text": "B\u0332*\u03324\u03320\u0332:\u03320\u03321\u0332", "fontSize": 24, "fontWeight": "normal", "anchor": "middle", "dx": -3, "offset": 9.7},
   "spacing": 0, "bounds": "flush", "resolve": {"scale": {"color": "independent"}, "legend": {"color": "independent"}},
   "vconcat": [
    {"title": {"text": "Enrichment plot: B*40:01 - TARKE", "fontSize": 13, "fontWeight": "bold", "anchor": "middle", "dx": -19.7, "offset": 5.3, "color": "#222"},
     "width": 318, "height": 141,
     "layer": [
      {"data": {"name": "es8"}, "mark": {"type": "line", "color": "#5cb946", "strokeWidth": 1.8},
       "encoding": {"x": {"field": "r", "type": "quantitative", "scale": {"domain": [0, 24820], "nice": false, "zero": false}, "axis": {"values": [0,5000,10000,15000,20000], "tickCount": 40, "labels": false, "title": null, "grid": true}},
        "y": {"field": "es", "type": "quantitative", "scale": {"domain": [-0.004, 0.868], "nice": false, "zero": false}, "axis": {"values": [0,0.1,0.2,0.3,0.4,0.5,0.6,0.7,0.8], "tickCount": 40, "labelOverlap": false, "format": ".1f", "title": "Enrichment score (ES)", "grid": true, "labelFont": "Liberation Serif", "labelFontSize": 11.5, "labelColor": "#555", "labelPadding": 4, "titleFontSize": 10.5, "titleFontWeight": "bold", "titlePadding": 4, "titleColor": "#333"}}}},
      {"data": {"values": [{}]}, "mark": {"type": "rule", "color": "#4a4a4a", "strokeWidth": 1.5}, "encoding": {"y": {"datum": 0}}}
     ]},
    {"width": 318, "height": 46.5, "data": {"name": "h8"}, "mark": {"type": "rule", "color": "#111", "strokeWidth": 1.8},
     "encoding": {"x": {"field": "r", "type": "quantitative", "scale": {"domain": [0, 24820], "nice": false, "zero": false}, "axis": null}}},
    {"width": 318, "height": 11, "data": {"name": "c8"}, "mark": {"type": "rect"},
     "encoding": {"x": {"field": "a", "type": "quantitative", "scale": {"domain": [0, 24820], "nice": false, "zero": false}, "axis": null}, "x2": {"field": "b"},
      "color": {"field": "k", "type": "ordinal", "scale": {"domain": [1,2,3,4,5], "range": ["#ee3b3b","#f05a5a","#ef6b7d","#f48a8a","#f8bfd6"]}, "legend": null}}},
    {"width": 318, "height": 94.5,
     "layer": [
      {"data": {"name": "m8"}, "mark": {"type": "area", "color": "#c4c4c4", "interpolate": "monotone"},
       "encoding": {"x": {"field": "r", "type": "quantitative", "scale": {"domain": [0, 24820], "nice": false, "zero": false}, "axis": {"values": [0,5000,10000,15000,20000], "tickCount": 40, "format": ",d", "title": "Rank in Ordered Dataset", "grid": true, "labelFontSize": 7, "labelPadding": 4, "titleFontSize": 8.8, "titleFontWeight": "normal", "titlePadding": 4}},
        "y": {"field": "m", "type": "quantitative", "scale": {"domain": [0, 11.8], "nice": false, "zero": false}, "axis": {"values": [0,2,4,6,8,10], "tickCount": 40, "labelOverlap": false, "format": "d", "title": "Ranked list metric (PreRanked)", "grid": true, "labelFontSize": 7, "labelPadding": 5.7, "titleFontSize": 8.8, "titleFontWeight": "normal", "titlePadding": 4.5}}}},
      {"data": {"name": "m8"}, "mark": {"type": "line", "strokeWidth": 1, "interpolate": "monotone"},
       "encoding": {"x": {"field": "r", "type": "quantitative"}, "y": {"field": "m", "type": "quantitative"},
        "color": {"datum": "Ranking metric scores", "scale": {"domain": ["Enrichment profile","Hits","Ranking metric scores"], "range": ["#5cb946","#111111","#c8c8c8"]},
         "legend": {"orient": "none", "legendX": 15, "legendY": 123.5, "direction": "horizontal", "title": null, "symbolType": "stroke", "symbolSize": 121, "symbolStrokeWidth": 1.5, "labelFontSize": 8.7, "labelColor": "#222", "columnPadding": 9, "padding": 4, "strokeColor": "#333", "labelOffset": 3}}}},
      {"data": {"name": "d8"}, "mark": {"type": "rule", "color": "#444", "strokeWidth": 1.8, "strokeDash": [10, 5]}, "encoding": {"x": {"field": "r", "type": "quantitative"}}},
      {"data": {"name": "lab"}, "mark": {"type": "text", "align": "left", "baseline": "top", "dx": 1.5, "dy": 2, "fontSize": 7.4, "color": "#ee5a44"}, "encoding": {"x": {"datum": 0}, "y": {"datum": 11.8}, "text": {"field": "t"}}}
     ]}
   ]},
  {"title": {"text": "B\u0332*\u03325\u03321\u0332:\u03320\u03321\u0332", "fontSize": 24, "fontWeight": "normal", "anchor": "middle", "dx": -3, "offset": 9.7},
   "spacing": 0, "bounds": "flush", "resolve": {"scale": {"color": "independent"}, "legend": {"color": "independent"}},
   "vconcat": [
    {"title": {"text": "Enrichment plot: B*51:01 - TARKE", "fontSize": 13, "fontWeight": "bold", "anchor": "middle", "dx": -19.6, "offset": 5.3, "color": "#222"},
     "width": 318, "height": 141,
     "layer": [
      {"data": {"name": "es9"}, "mark": {"type": "line", "color": "#5cb946", "strokeWidth": 1.8},
       "encoding": {"x": {"field": "r", "type": "quantitative", "scale": {"domain": [0, 24820], "nice": false, "zero": false}, "axis": {"values": [0,5000,10000,15000,20000], "tickCount": 40, "labels": false, "title": null, "grid": true}},
        "y": {"field": "es", "type": "quantitative", "scale": {"domain": [-0.045, 0.895], "nice": false, "zero": false}, "axis": {"values": [0,0.1,0.2,0.3,0.4,0.5,0.6,0.7,0.8], "tickCount": 40, "labelOverlap": false, "format": ".1f", "title": "Enrichment score (ES)", "grid": true, "labelFont": "Liberation Serif", "labelFontSize": 11.5, "labelColor": "#555", "labelPadding": 4, "titleFontSize": 10.5, "titleFontWeight": "bold", "titlePadding": 4, "titleColor": "#333"}}}},
      {"data": {"values": [{}]}, "mark": {"type": "rule", "color": "#4a4a4a", "strokeWidth": 1.5}, "encoding": {"y": {"datum": 0}}}
     ]},
    {"width": 318, "height": 46.5, "data": {"name": "h9"}, "mark": {"type": "rule", "color": "#111", "strokeWidth": 1.8},
     "encoding": {"x": {"field": "r", "type": "quantitative", "scale": {"domain": [0, 24820], "nice": false, "zero": false}, "axis": null}}},
    {"width": 318, "height": 11, "data": {"name": "c9"}, "mark": {"type": "rect"},
     "encoding": {"x": {"field": "a", "type": "quantitative", "scale": {"domain": [0, 24820], "nice": false, "zero": false}, "axis": null}, "x2": {"field": "b"},
      "color": {"field": "k", "type": "ordinal", "scale": {"domain": [1,2,3,4,5], "range": ["#ee3b3b","#f05a5a","#ef6b7d","#f48a8a","#f8bfd6"]}, "legend": null}}},
    {"width": 318, "height": 94.5,
     "layer": [
      {"data": {"name": "m9"}, "mark": {"type": "area", "color": "#c4c4c4", "interpolate": "monotone"},
       "encoding": {"x": {"field": "r", "type": "quantitative", "scale": {"domain": [0, 24820], "nice": false, "zero": false}, "axis": {"values": [0,5000,10000,15000,20000], "tickCount": 40, "format": ",d", "title": "Rank in Ordered Dataset", "grid": true, "labelFontSize": 7, "labelPadding": 4, "titleFontSize": 8.8, "titleFontWeight": "normal", "titlePadding": 4}},
        "y": {"field": "m", "type": "quantitative", "scale": {"domain": [0, 11.8], "nice": false, "zero": false}, "axis": {"values": [0,2,4,6,8,10], "tickCount": 40, "labelOverlap": false, "format": "d", "title": "Ranked list metric (PreRanked)", "grid": true, "labelFontSize": 7, "labelPadding": 5.7, "titleFontSize": 8.8, "titleFontWeight": "normal", "titlePadding": 4.5}}}},
      {"data": {"name": "m9"}, "mark": {"type": "line", "strokeWidth": 1, "interpolate": "monotone"},
       "encoding": {"x": {"field": "r", "type": "quantitative"}, "y": {"field": "m", "type": "quantitative"},
        "color": {"datum": "Ranking metric scores", "scale": {"domain": ["Enrichment profile","Hits","Ranking metric scores"], "range": ["#5cb946","#111111","#c8c8c8"]},
         "legend": {"orient": "none", "legendX": 15, "legendY": 123.5, "direction": "horizontal", "title": null, "symbolType": "stroke", "symbolSize": 121, "symbolStrokeWidth": 1.5, "labelFontSize": 8.7, "labelColor": "#222", "columnPadding": 9, "padding": 4, "strokeColor": "#333", "labelOffset": 3}}}},
      {"data": {"name": "d9"}, "mark": {"type": "rule", "color": "#444", "strokeWidth": 1.8, "strokeDash": [10, 5]}, "encoding": {"x": {"field": "r", "type": "quantitative"}}},
      {"data": {"name": "lab"}, "mark": {"type": "text", "align": "left", "baseline": "top", "dx": 1.5, "dy": 2, "fontSize": 7.4, "color": "#ee5a44"}, "encoding": {"x": {"datum": 0}, "y": {"datum": 11.8}, "text": {"field": "t"}}}
     ]}
   ]}
 ], "spacing": 104.9, "resolve": {"scale": {"color": "independent"}, "legend": {"color": "independent"}}}
]
}
